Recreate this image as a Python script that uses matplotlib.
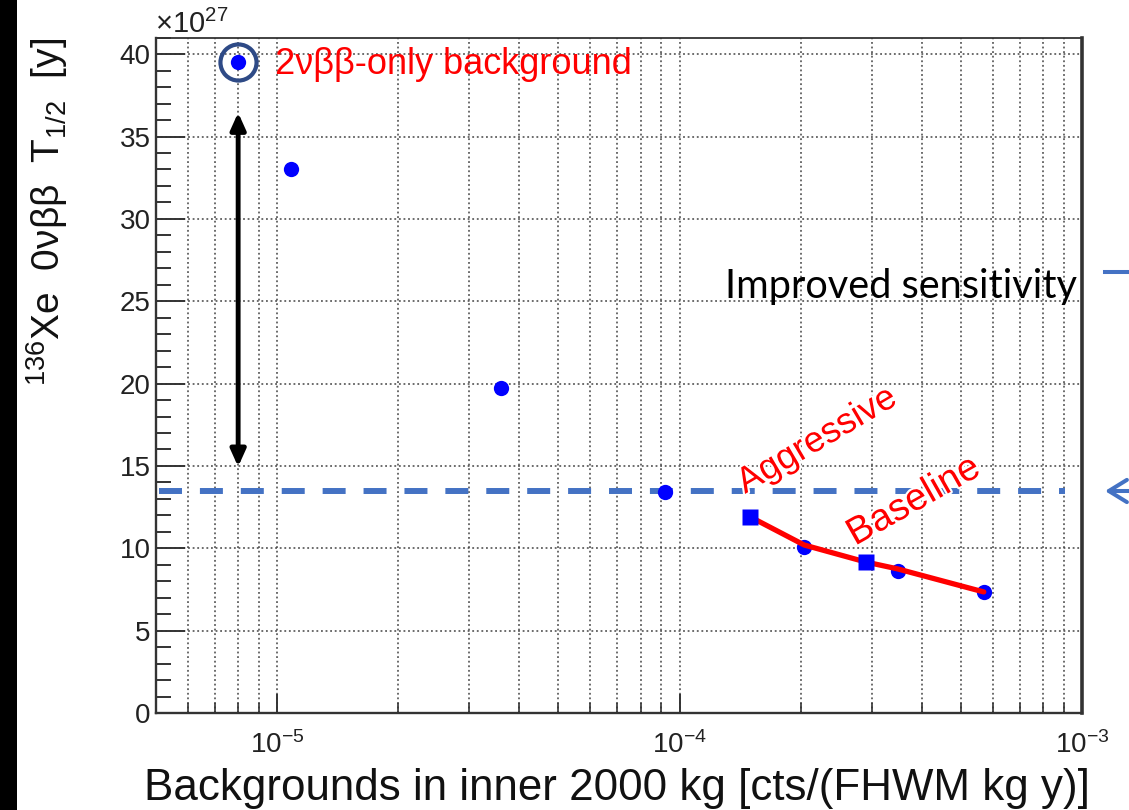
import matplotlib
matplotlib.use('Agg')
import matplotlib.pyplot as plt
import matplotlib.patheffects as pe
from matplotlib.patches import Rectangle, FancyArrowPatch
from matplotlib.lines import Line2D
from matplotlib.ticker import LogLocator, MultipleLocator, NullFormatter, FixedLocator, LogFormatterSciNotation
import numpy as np

plt.rcParams['font.family'] = ['Liberation Sans', 'DejaVu Sans']
plt.rcParams['mathtext.fontset'] = 'custom'
plt.rcParams['mathtext.rm'] = 'Liberation Sans'
plt.rcParams['mathtext.it'] = 'Liberation Sans:italic'
plt.rcParams['mathtext.bf'] = 'Liberation Sans:bold'
plt.rcParams['mathtext.default'] = 'regular'

# ---------------- data ----------------
bkg_circles = [8.0e-6, 1.08e-5, 3.6e-5, 9.2e-5, 2.04e-4, 3.48e-4, 5.7e-4]
thalf_circles = [39.5, 33.0, 19.75, 13.4, 10.1, 8.65, 7.35]
bkg_squares = [1.5e-4, 2.9e-4]
thalf_squares = [11.9, 9.17]
curve_bkg = [1.5e-4, 2.04e-4, 2.9e-4, 3.48e-4, 5.7e-4]
curve_thalf = [11.9, 10.2, 9.17, 8.75, 7.35]
reference_thalf = 13.5
arrow_bkg = 8.0e-6
arrow_range = [36.45, 14.95]
x_major_ticks = [1e-5, 1e-4, 1e-3]
y_major_ticks = [0, 5, 10, 15, 20, 25, 30, 35, 40]

W, H = 1129, 810
fig = plt.figure(figsize=(W / 100, H / 100), dpi=100)
fig.patches.append(Rectangle((0, 0), 17 / W, 1, transform=fig.transFigure,
                             facecolor='black', edgecolor='none'))

ax = fig.add_axes([156 / W, 1 - 713 / H, (1082 - 156) / W, (713 - 37.7) / H])
ax.set_xscale('log')
ax.set_xlim(5e-6, 1e-3)
ax.set_ylim(0, 41)

ax.xaxis.set_major_locator(FixedLocator(x_major_ticks))
ax.xaxis.set_major_formatter(LogFormatterSciNotation())
ax.xaxis.set_minor_locator(LogLocator(base=10, subs=np.arange(2, 10), numticks=30))
ax.xaxis.set_minor_formatter(NullFormatter())
ax.yaxis.set_major_locator(FixedLocator(y_major_ticks))
ax.yaxis.set_minor_locator(MultipleLocator(1))

tick_col = '#333333'
ax.tick_params(axis='x', which='major', direction='in', length=14, width=1.4,
               labelsize=20, pad=13, colors=tick_col, labelcolor='#222222')
ax.tick_params(axis='x', which='minor', direction='in', length=7, width=1.2, colors=tick_col)
ax.tick_params(axis='y', which='major', direction='in', length=21, width=1.4,
               labelsize=20, pad=4, colors=tick_col, labelcolor='#222222')
ax.tick_params(axis='y', which='minor', direction='in', length=11, width=1.4, colors=tick_col)

grid_style = dict(color='#444444', lw=1.1, linestyle=(0, (1.2, 1.8)))
ax.grid(True, which='major', axis='y', **grid_style)
ax.grid(True, which='both', axis='x', **grid_style)

for side, lw in [('left', 1.7), ('bottom', 1.7), ('right', 2.6), ('top', 1.3)]:
    ax.spines[side].set_linewidth(lw)
    ax.spines[side].set_color('#333333')

# reference dashed line
ax.axhline(reference_thalf, xmin=(159 - 156) / 926, xmax=(1065 - 156) / 926,
           color='#4472C4', lw=4.3, dashes=(3.85, 3.0), zorder=3)

# data
ax.plot(bkg_circles, thalf_circles, 'o', color='#0000ff', ms=11, mec='none', zorder=4)
ax.plot(curve_bkg, curve_thalf, color='#ff0000', lw=3.8, zorder=5, solid_capstyle='round')
ax.plot(bkg_squares, thalf_squares, 's', color='#0000ff', ms=12, mec='none', zorder=6)

# highlight ring
ax.plot([bkg_circles[0]], [thalf_circles[0]], 'o', ms=26, mfc='none', mec='#2E4A86',
        mew=3, zorder=7)

# double arrow
ax.annotate('', xy=(arrow_bkg, arrow_range[1]), xytext=(arrow_bkg, arrow_range[0]),
            arrowprops=dict(arrowstyle='<|-|>,head_length=1.0,head_width=0.45',
                            mutation_scale=10, lw=3.5, color='black',
                            shrinkA=0, shrinkB=0), zorder=6)

# texts
fig.text(275 / W, 1 - 74 / H, '2νββ-only background', color='#ff0000', fontsize=26,
         va='baseline', ha='left')
halo = [pe.withStroke(linewidth=3, foreground='white')]
fig.text(745 / W, 1 - 494 / H, 'Aggressive', color='#ff0000', fontsize=26, rotation=30.5,
         rotation_mode='anchor', ha='left', va='baseline', path_effects=halo, zorder=8)
fig.text(855 / W, 1 - 546 / H, 'Baseline', color='#ff0000', fontsize=27.5, rotation=29.5,
         rotation_mode='anchor', ha='left', va='baseline', path_effects=halo, zorder=8)
fig.text(725 / W, 1 - 298 / H, 'Improved sensitivity', color='black', fontsize=28.6,
         family='Lato', va='baseline', ha='left')

fig.text(155 / W, 1 - 33 / H, '×10$^{27}$', fontsize=21, color='#222222',
         va='baseline', ha='left')
fig.text(1090 / W, 1 - 800 / H, 'Backgrounds in inner 2000 kg [cts/(FHWM kg y)]',
         fontsize=31.6, color='#111111', va='baseline', ha='right')
fig.text(47 / W, 1 - 38 / H, '$^{136}$Xe  0νββ  T$_{1/2}$  [y]', fontsize=28,
         color='#111111', rotation=90, ha='center', va='top')

# right-edge slide elements
fig.add_artist(Line2D([1105 / W, 1.0], [1 - 272 / H] * 2, transform=fig.transFigure,
                      color='#4472C4', lw=2.9))
fig.add_artist(FancyArrowPatch((1.01, 1 - 491 / H), (1105 / W, 1 - 491 / H),
                               transform=fig.transFigure,
                               arrowstyle='->,head_length=13,head_width=8',
                               mutation_scale=1, lw=2.9, color='#4472C4',
                               shrinkA=0, shrinkB=0))

fig.savefig('out.png', dpi=100)
